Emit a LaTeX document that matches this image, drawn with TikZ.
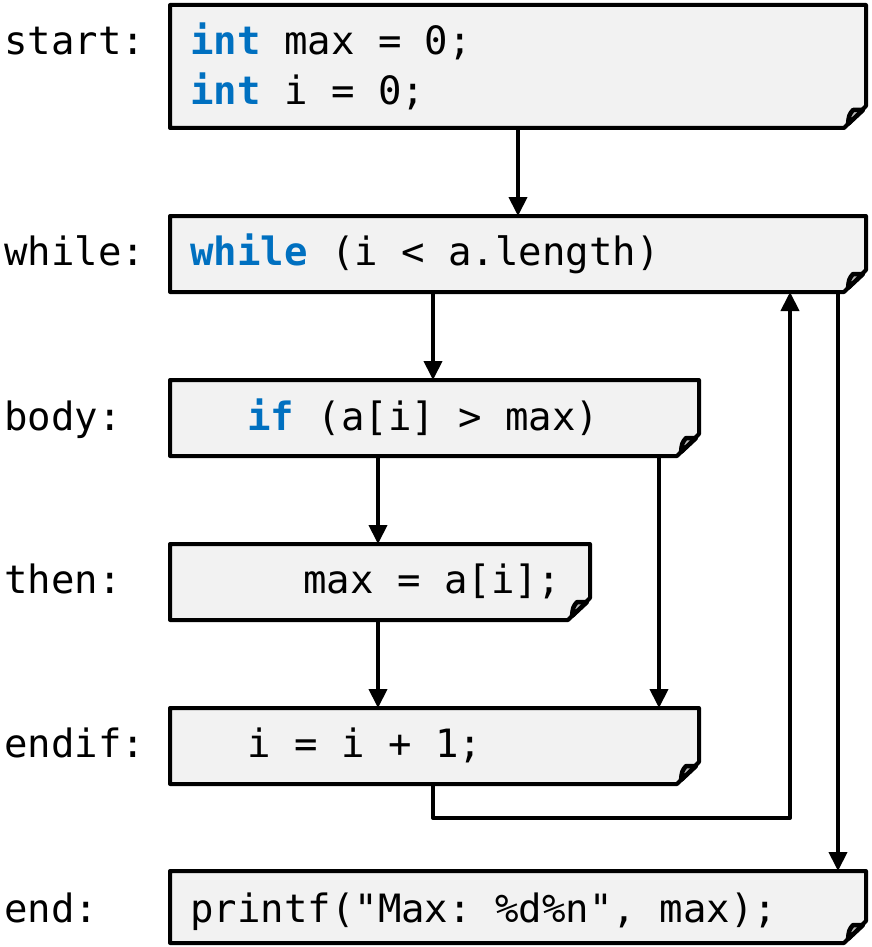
\documentclass[tikz,border=0pt]{standalone}
\usepackage{fontspec}
\setmonofont{DejaVu Sans Mono}
\usetikzlibrary{arrows.meta}
\definecolor{kw}{HTML}{0070C0}
\definecolor{boxfill}{HTML}{F2F2F2}
\newcommand{\kwd}[1]{\textcolor{kw}{\bfseries #1}}
\newcommand{\notebox}[5]{%
  % #1 name, #2 x1, #3 y1, #4 x2, #5 y2
  \path[boxshape] (#2,#3) -- (#4,#3) -- (#4,#5-22) -- (#4-22,#5) -- (#2,#5) -- cycle;
  \path[foldshape] (#4-3,#5-18) -- (#4-13,#5-18) .. controls (#4-17,#5-13) .. (#4-18,#5-4) -- cycle;
  \coordinate (#1-nw) at (#2,#3);
  \coordinate (#1-se) at (#4,#5);
}
\tikzset{
  boxshape/.style={draw=black, fill=boxfill, line width=4pt, line join=round},
  foldshape/.style={draw=black, fill=gray!55, line width=4.5pt, line join=round},
  code/.style={anchor=base west, inner sep=0pt, font=\ttfamily\fontsize{39}{44}\selectfont},
  conn/.style={draw=black, line width=4pt, -{Triangle[length=19pt,width=18pt]}},
}
\begin{document}
\begin{tikzpicture}[x=1pt,y=-1pt]
\useasboundingbox (0,0) rectangle (871,947);
% boxes
\notebox{start}{170}{5}{866}{128}
\notebox{while}{170}{216}{866}{292}
\notebox{body}{170}{380}{699}{456}
\notebox{then}{170}{544}{590}{620}
\notebox{endif}{170}{708}{699}{784}
\notebox{end}{170}{871}{866}{943}
% labels
\node[code] (lstart) at (4,55) {start:};
\node[code] (lwhile) at (4,265) {while:};
\node[code] (lbody) at (4,430) {body:};
\node[code] (lthen) at (4,593) {then:};
\node[code] (lendif) at (4,757) {endif:};
\node[code] (lend) at (4,922) {end:};
% code
\node[code] (c1) at (190,55) {\kwd{int} max = 0;};
\node[code] (c2) at (190,105) {\kwd{int} i = 0;};
\node[code] (c3) at (190,265) {\kwd{while} (i < a.length)};
\node[code] (c4) at (247,430) {\kwd{if} (a[i] > max)};
\node[code] (c5) at (303,593) {max = a[i];};
\node[code] (c6) at (247,757) {i = i + 1;};
\node[code] (c7) at (190,922) {printf("Max: \%d\%n", max);};
% connectors
\coordinate (a1s) at (518,128); \coordinate (a1e) at (518,216);
\draw[conn] (a1s) -- (a1e);
\coordinate (a2s) at (433,292); \coordinate (a2e) at (433,380);
\draw[conn] (a2s) -- (a2e);
\coordinate (a3s) at (378,456); \coordinate (a3e) at (378,544);
\draw[conn] (a3s) -- (a3e);
\coordinate (a4s) at (659,456); \coordinate (a4e) at (659,708);
\draw[conn] (a4s) -- (a4e);
\coordinate (a5s) at (378,620); \coordinate (a5e) at (378,708);
\draw[conn] (a5s) -- (a5e);
\coordinate (l1) at (433,784); \coordinate (l2) at (433,818);
\coordinate (l3) at (790,818); \coordinate (l4) at (790,292);
\draw[conn, line join=round] (l1) -- (l2) -- (l3) -- (l4);
\coordinate (a6s) at (838,292); \coordinate (a6e) at (838,871);
\draw[conn] (a6s) -- (a6e);
\end{tikzpicture}
\end{document}
